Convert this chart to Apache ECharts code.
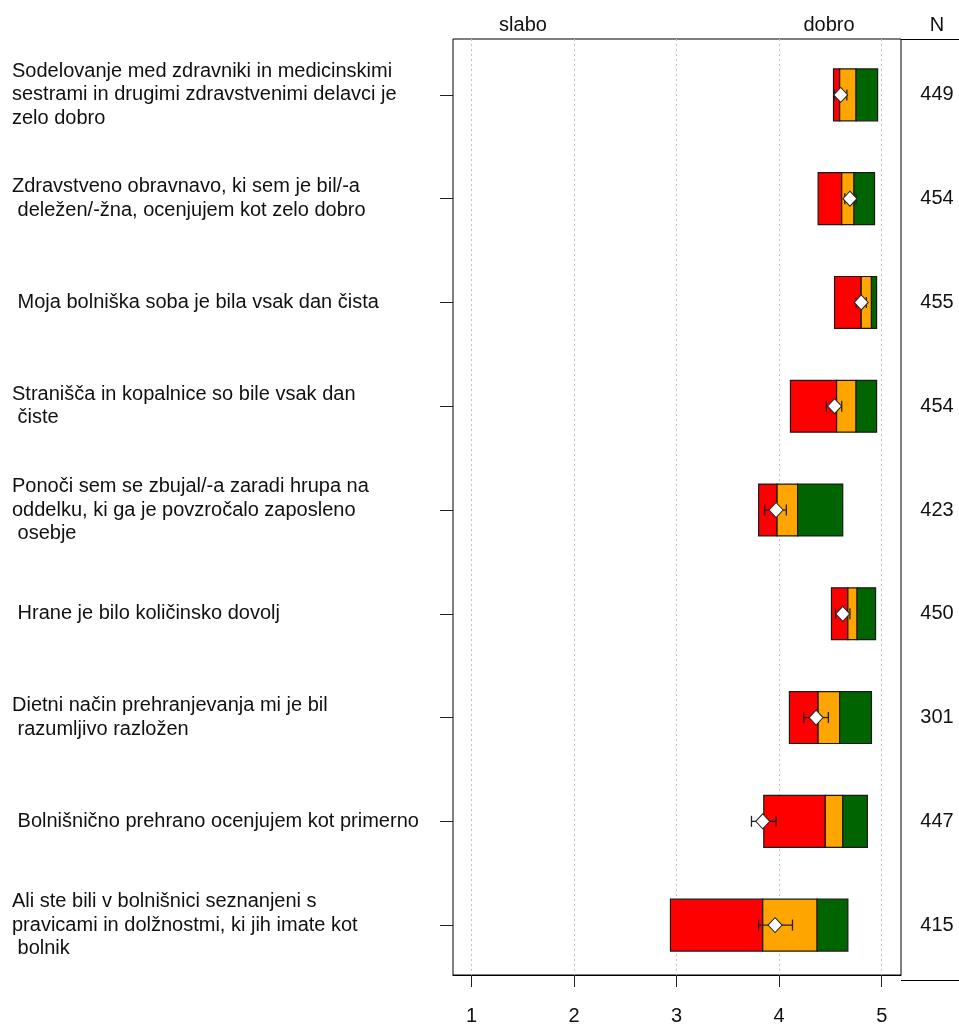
<!DOCTYPE html>
<html>
<head>
<meta charset="utf-8">
<script src="https://cdn.jsdelivr.net/npm/echarts@6/dist/echarts.min.js"></script>
<style>html,body{margin:0;padding:0;background:#fff;}#c{width:959px;height:1026px;}</style>
</head>
<body>
<div id="c"></div>
<script>
const categories = [
  "Sodelovanje med zdravniki in medicinskimi\nsestrami in drugimi zdravstvenimi delavci je\nzelo dobro",
  "Zdravstveno obravnavo, ki sem je bil/-a\n deležen/-žna, ocenjujem kot zelo dobro",
  " Moja bolniška soba je bila vsak dan čista",
  "Stranišča in kopalnice so bile vsak dan\n čiste",
  "Ponoči sem se zbujal/-a zaradi hrupa na\noddelku, ki ga je povzročalo zaposleno\n osebje",
  " Hrane je bilo količinsko dovolj",
  "Dietni način prehranjevanja mi je bil\n razumljivo razložen",
  " Bolnišnično prehrano ocenjujem kot primerno",
  "Ali ste bili v bolnišnici seznanjeni s\npravicami in dolžnostmi, ki jih imate kot\n bolnik"
];
const lowVals  = [4.53, 4.38, 4.54, 4.11, 3.80, 4.51, 4.10, 3.85, 2.94];
const q1Vals   = [4.59, 4.61, 4.80, 4.56, 3.98, 4.67, 4.38, 4.45, 3.84];
const q2Vals   = [4.75, 4.73, 4.90, 4.75, 4.18, 4.76, 4.59, 4.62, 4.37];
const highVals = [4.96, 4.93, 4.95, 4.95, 4.62, 4.94, 4.90, 4.86, 4.67];
const meanVals = [4.60, 4.69, 4.80, 4.54, 3.97, 4.62, 4.36, 3.84, 3.96];
const ciLow    = [4.54, 4.64, 4.75, 4.46, 3.86, 4.55, 4.24, 3.73, 3.80];
const ciHigh   = [4.66, 4.75, 4.85, 4.61, 4.07, 4.69, 4.48, 3.97, 4.13];
const nVals    = ["449", "454", "455", "454", "423", "450", "301", "447", "415"];
const xTicks   = [1, 2, 3, 4, 5];
const topLabels = ["slabo", "dobro", "N"];

const FONT = "'Liberation Sans', Arial, sans-serif";
const X_MIN = 0.82, X_MAX = 5.188;

const barData = categories.map((c, i) => [i, lowVals[i], q1Vals[i], q2Vals[i], highVals[i]]);
const errData = categories.map((c, i) => [i, ciLow[i], ciHigh[i]]);
const meanData = categories.map((c, i) => [meanVals[i], i]);

function renderBars(params, api) {
  const idx = api.value(0);
  const lo = api.coord([api.value(1), idx]);
  const a = api.coord([api.value(2), idx]);
  const b = api.coord([api.value(3), idx]);
  const hi = api.coord([api.value(4), idx]);
  const h = api.size([0, 1])[1] * 0.5;
  const y = lo[1] - h / 2;
  const mk = (x0, x1, color) => ({
    type: 'rect',
    shape: { x: x0, y: y, width: x1 - x0, height: h },
    style: { fill: color, stroke: '#1a1a1a', lineWidth: 1.2 }
  });
  return { type: 'group', children: [mk(lo[0], a[0], '#FF0000'), mk(a[0], b[0], '#FFA500'), mk(b[0], hi[0], '#006400')] };
}

function renderErr(params, api) {
  const idx = api.value(0);
  const l = api.coord([api.value(1), idx]);
  const r = api.coord([api.value(2), idx]);
  const c = 5.5;
  const st = { stroke: '#222', lineWidth: 1.3 };
  return { type: 'group', children: [
    { type: 'line', shape: { x1: l[0], y1: l[1], x2: r[0], y2: r[1] }, style: st },
    { type: 'line', shape: { x1: l[0], y1: l[1] - c, x2: l[0], y2: l[1] + c }, style: st },
    { type: 'line', shape: { x1: r[0], y1: r[1] - c, x2: r[0], y2: r[1] + c }, style: st }
  ] };
}

const chart = echarts.init(document.getElementById('c'), null, { renderer: 'canvas' });
chart.setOption({
  backgroundColor: '#fff',
  animation: false,
  textStyle: { fontFamily: FONT },
  grid: [
    { left: 453, right: 58, top: 39, bottom: 46, show: true, borderColor: '#000', borderWidth: 1, backgroundColor: 'transparent', containLabel: false },
    { left: 453, right: 58, top: 43, bottom: 49, show: false, containLabel: false }
  ],
  xAxis: [
    {
      gridIndex: 0, type: 'value', min: X_MIN, max: X_MAX,
      axisLine: { show: true, lineStyle: { color: '#000', width: 1 } },
      axisTick: { show: true, length: 12, inside: false, customValues: xTicks, lineStyle: { color: '#222', width: 1 } },
      axisLabel: { show: true, customValues: xTicks, margin: 31, fontSize: 20, color: '#111', fontFamily: FONT },
      splitLine: { show: true, lineStyle: { color: '#c0c0c0', type: [2, 3], width: 1 } }
    },
    {
      gridIndex: 1, type: 'value', min: X_MIN, max: X_MAX, show: false,
      splitLine: { show: false }
    }
  ],
  yAxis: [
    {
      gridIndex: 1, type: 'category', data: categories, inverse: true, position: 'left',
      axisLine: { show: false },
      axisTick: { show: true, alignWithLabel: true, length: 13, lineStyle: { color: '#222' } },
      axisLabel: { show: true, interval: 0, align: 'left', margin: 441, fontSize: 20, lineHeight: 23.5, color: '#111', fontFamily: FONT },
      splitLine: { show: false }
    },
    {
      gridIndex: 1, type: 'category', data: nVals, inverse: true, position: 'right',
      axisLine: { show: false }, axisTick: { show: false },
      axisLabel: { show: true, interval: 0, align: 'center', margin: 36, fontSize: 20, color: '#111', fontFamily: FONT },
      splitLine: { show: false }
    },
    {
      gridIndex: 0, type: 'value', show: false, min: 0, max: 1, splitLine: { show: false }
    }
  ],
  graphic: [
    { type: 'line', shape: { x1: 901, y1: 39.5, x2: 960, y2: 39.5 }, style: { stroke: '#000', lineWidth: 1 }, silent: true },
    { type: 'line', shape: { x1: 901, y1: 980.5, x2: 960, y2: 980.5 }, style: { stroke: '#000', lineWidth: 1 }, silent: true },
    { type: 'text', x: 523, y: 25, style: { text: topLabels[0], font: "20px 'Liberation Sans', Arial, sans-serif", fill: '#111', textAlign: 'center', textVerticalAlign: 'middle' } },
    { type: 'text', x: 829, y: 25, style: { text: topLabels[1], font: "20px 'Liberation Sans', Arial, sans-serif", fill: '#111', textAlign: 'center', textVerticalAlign: 'middle' } },
    { type: 'text', x: 937, y: 25, style: { text: topLabels[2], font: "20px 'Liberation Sans', Arial, sans-serif", fill: '#111', textAlign: 'center', textVerticalAlign: 'middle' } }
  ],
  series: [
    {
      type: 'custom', name: 'bars', xAxisIndex: 1, yAxisIndex: 0,
      renderItem: renderBars, data: barData, encode: { x: [1, 2, 3, 4], y: 0 }, z: 2, silent: true
    },
    {
      type: 'custom', name: 'ci', xAxisIndex: 1, yAxisIndex: 0,
      renderItem: renderErr, data: errData, encode: { x: [1, 2], y: 0 }, z: 3, silent: true
    },
    {
      type: 'scatter', name: 'mean', xAxisIndex: 1, yAxisIndex: 0,
      data: meanData, symbol: 'diamond', symbolSize: [14, 15],
      itemStyle: { color: '#fff', opacity: 1, borderColor: '#222', borderWidth: 1 }, z: 4, silent: true
    }
  ]
});
</script>
</body>
</html>
